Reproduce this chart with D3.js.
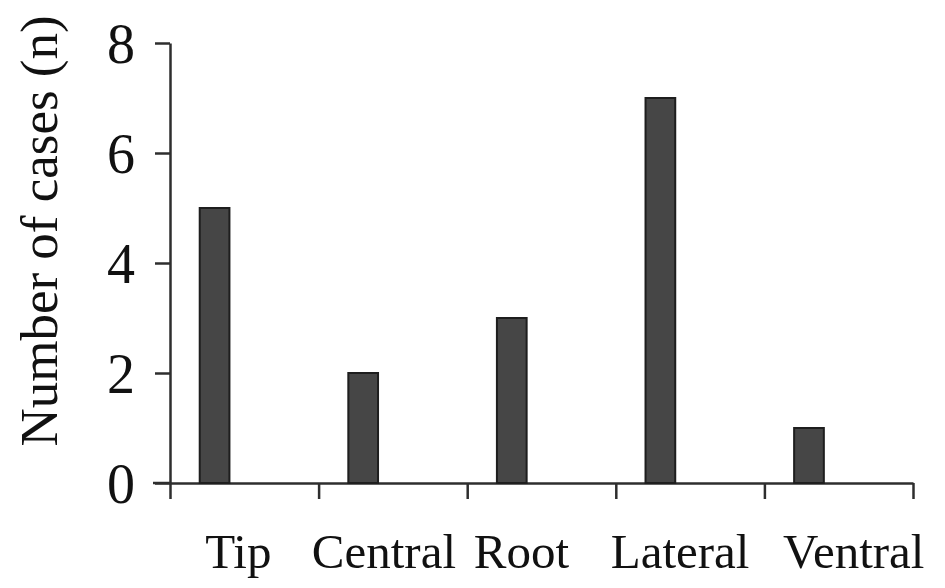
<!DOCTYPE html>
<html>
<head>
<meta charset="utf-8">
<script src="https://cdn.jsdelivr.net/npm/d3@7"></script>
<style>
  body { margin: 0; background: #fff; }
  svg { display: block; }
  text { font-family: "Liberation Serif", "Times New Roman", serif; fill: #111; }
</style>
</head>
<body>
<svg width="945" height="588"></svg>
<script>
// data
var categories = ["Tip", "Central", "Root", "Lateral", "Ventral"];
var cases = [5, 2, 3, 7, 1];
var yTicks = [0, 2, 4, 6, 8];
var yTitle = "Number of cases (n)";

var svg = d3.select("svg");
var plotLeft = 170, plotRight = 913, plotTop = 43, plotBottom = 483;

// slot scale: each category owns one slot between the x ticks
var x = d3.scaleLinear().domain([0, categories.length]).range([plotLeft, plotRight]);
var y = d3.scaleLinear().domain([0, 8]).range([plotBottom, plotTop]);

var axisColor = "#2e2e2e";

// y axis
var gy = svg.append("g").attr("transform", "translate(" + plotLeft + ",0)")
  .call(d3.axisLeft(y).tickValues(yTicks).tickSize(15).tickSizeOuter(0).tickPadding(20));
gy.select(".domain").attr("stroke", axisColor).attr("stroke-width", 2.5);
gy.selectAll(".tick line").attr("stroke", axisColor).attr("stroke-width", 2.5);
gy.selectAll(".tick text")
  .style("font-family", "'Liberation Serif', serif")
  .style("font-size", "56px").attr("fill", "#111").attr("dy", "0.34em");

// x axis (ticks at slot boundaries, no labels)
var gx = svg.append("g").attr("transform", "translate(0," + plotBottom + ")")
  .call(d3.axisBottom(x).ticks(categories.length).tickSize(16).tickSizeOuter(0).tickFormat(""));
gx.select(".domain").attr("stroke", axisColor).attr("stroke-width", 2.5);
gx.selectAll(".tick line").attr("stroke", axisColor).attr("stroke-width", 2.5);
// extend baseline left to meet the 0 tick
gx.append("line").attr("x1", plotLeft - 17).attr("x2", plotLeft).attr("y1", 0).attr("y2", 0)
  .attr("stroke", axisColor).attr("stroke-width", 2.5);

// bars
svg.append("g").selectAll("rect").data(cases).enter().append("rect")
  .attr("x", function(d, i) { return x(i + 0.2); })
  .attr("width", function(d, i) { return x(i + 0.4) - x(i + 0.2); })
  .attr("y", function(d) { return y(d); })
  .attr("height", function(d) { return y(0) - y(d); })
  .attr("fill", "#464646")
  .attr("stroke", "#1e1e1e")
  .attr("stroke-width", 2);

// category labels (slightly nudged like the original)
var labelNudge = [-6, -9, -20, -10, 15];
svg.append("g").selectAll("text").data(categories).enter().append("text")
  .attr("x", function(d, i) { return x(i + 0.5) + labelNudge[i]; })
  .attr("y", 568)
  .attr("text-anchor", "middle")
  .style("font-size", "49px")
  .text(function(d) { return d; });

// y title
svg.append("text")
  .attr("transform", "translate(57,231) rotate(-90)")
  .attr("text-anchor", "middle")
  .style("font-size", "53px")
  .text(yTitle);
</script>
</body>
</html>
